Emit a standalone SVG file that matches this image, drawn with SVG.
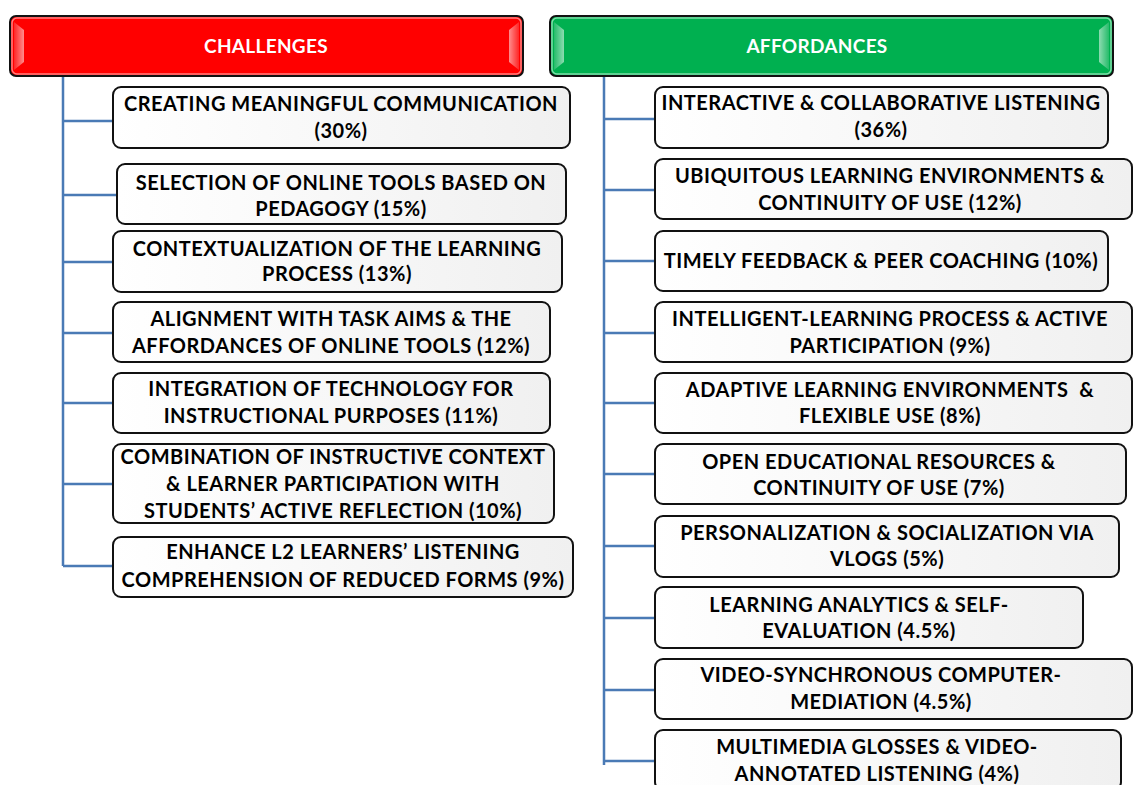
<svg xmlns="http://www.w3.org/2000/svg" width="1133" height="785" viewBox="0 0 1133 785">
<defs>
<linearGradient id="boxg" x1="0" y1="0" x2="1" y2="0">
<stop offset="0" stop-color="#ffffff"/>
<stop offset="1" stop-color="#f0f0f0"/>
</linearGradient>
<linearGradient id="bevL" x1="0" y1="0" x2="1" y2="0">
<stop offset="0" stop-color="#ffffff" stop-opacity="0.15"/>
<stop offset="1" stop-color="#ffffff" stop-opacity="0.55"/>
</linearGradient>
<linearGradient id="bevR" x1="0" y1="0" x2="1" y2="0">
<stop offset="0" stop-color="#ffffff" stop-opacity="0.55"/>
<stop offset="1" stop-color="#ffffff" stop-opacity="0.15"/>
</linearGradient>
</defs>
<style>
.box{fill:url(#boxg);stroke:#111;stroke-width:2}
.t{font-family:Lato,"Open Sans","Liberation Sans",sans-serif;font-weight:700;font-size:20px;letter-spacing:0.5px;fill:#000;text-anchor:middle}
.h{font-family:Lato,"Open Sans","Liberation Sans",sans-serif;font-weight:700;font-size:19px;letter-spacing:0.3px;fill:#fff;text-anchor:middle}
.conn{stroke:#4a7ab5;stroke-width:2.5;fill:none}
</style>
<rect width="1133" height="785" fill="#fff"/>

<g id="connectors">
<path class="conn" d="M63,76 V566 M63,121 H113 M63,195 H117 M63,262 H113 M63,333 H113 M63,403 H113 M63,484 H113 M63,566 H113"/>
<path class="conn" d="M604,76 V765 M604,119 H655 M604,190 H655 M604,261 H655 M604,333 H655 M604,403 H655 M604,474 H655 M604,546 H655 M604,618 H655 M604,690 H655 M604,761 H655"/>
</g>

<g id="challenges">
<rect x="10" y="16" width="513" height="60" rx="6" fill="#ff0000" stroke="#111" stroke-width="2"/>
<rect x="12" y="18" width="509" height="56" rx="5" fill="none" stroke="#ff8080" stroke-width="1.5"/>
<polygon points="14,22 24,30 24,62 14,70" fill="url(#bevL)"/>
<polygon points="519,22 509,30 509,62 519,70" fill="url(#bevR)"/>
<text class="h" x="266" y="53">CHALLENGES</text>
</g>

<g id="affordances">
<rect x="550" y="16" width="563" height="60" rx="6" fill="#00b050" stroke="#111" stroke-width="2"/>
<rect x="552" y="18" width="559" height="56" rx="5" fill="none" stroke="#7fdca8" stroke-width="1.5"/>
<polygon points="554,22 564,30 564,62 554,70" fill="url(#bevL)"/>
<polygon points="1109,22 1099,30 1099,62 1109,70" fill="url(#bevR)"/>
<text class="h" x="817" y="53">AFFORDANCES</text>
</g>

<g id="c1"><rect class="box" x="113" y="87" width="457" height="61" rx="8"/>
<text class="t" x="341" y="111">CREATING MEANINGFUL COMMUNICATION</text><text class="t" x="341" y="138">(30%)</text></g>
<g id="c2"><rect class="box" x="117" y="164" width="449" height="60" rx="8"/>
<text class="t" x="341" y="190">SELECTION OF ONLINE TOOLS BASED ON</text><text class="t" x="341" y="216">PEDAGOGY (15%)</text></g>
<g id="c3"><rect class="box" x="113" y="231" width="449" height="61" rx="8"/>
<text class="t" x="337" y="256">CONTEXTUALIZATION OF THE LEARNING</text><text class="t" x="337" y="281">PROCESS (13%)</text></g>
<g id="c4"><rect class="box" x="113" y="302" width="437" height="60" rx="8"/>
<text class="t" x="331" y="326">ALIGNMENT WITH TASK AIMS &amp; THE</text><text class="t" x="331" y="353">AFFORDANCES OF ONLINE TOOLS (12%)</text></g>
<g id="c5"><rect class="box" x="113" y="373" width="437" height="60" rx="8"/>
<text class="t" x="331" y="396">INTEGRATION OF TECHNOLOGY FOR</text><text class="t" x="331" y="423">INSTRUCTIONAL PURPOSES (11%)</text></g>
<g id="c6"><rect class="box" x="113" y="444" width="441" height="79" rx="8"/>
<text class="t" x="333" y="464">COMBINATION OF INSTRUCTIVE CONTEXT</text><text class="t" x="333" y="491">&amp; LEARNER PARTICIPATION WITH</text><text class="t" x="333" y="518">STUDENTS’ ACTIVE REFLECTION (10%)</text></g>
<g id="c7"><rect class="box" x="113" y="537" width="460" height="60" rx="8"/>
<text class="t" x="343" y="559">ENHANCE L2 LEARNERS’ LISTENING</text><text class="t" x="343" y="587">COMPREHENSION OF REDUCED FORMS (9%)</text></g>

<g id="a1"><rect class="box" x="655" y="87" width="453" height="61" rx="8"/>
<text class="t" x="881" y="110">INTERACTIVE &amp; COLLABORATIVE LISTENING</text><text class="t" x="881" y="137">(36%)</text></g>
<g id="a2"><rect class="box" x="655" y="159" width="477" height="60" rx="8"/>
<text class="t" x="890" y="183">UBIQUITOUS LEARNING ENVIRONMENTS &amp;</text><text class="t" x="890" y="210">CONTINUITY OF USE (12%)</text></g>
<g id="a3"><rect class="box" x="655" y="231" width="453" height="60" rx="8"/>
<text class="t" x="881" y="268">TIMELY FEEDBACK &amp; PEER COACHING (10%)</text></g>
<g id="a4"><rect class="box" x="655" y="302" width="477" height="60" rx="8"/>
<text class="t" x="890" y="326">INTELLIGENT-LEARNING PROCESS &amp; ACTIVE</text><text class="t" x="890" y="353">PARTICIPATION (9%)</text></g>
<g id="a5"><rect class="box" x="655" y="373" width="477" height="60" rx="8"/>
<text class="t" x="890" y="397" xml:space="preserve">ADAPTIVE LEARNING ENVIRONMENTS  &amp;</text><text class="t" x="890" y="423">FLEXIBLE USE (8%)</text></g>
<g id="a6"><rect class="box" x="655" y="444" width="471" height="60" rx="8"/>
<text class="t" x="879" y="469">OPEN EDUCATIONAL RESOURCES &amp;</text><text class="t" x="879" y="495">CONTINUITY OF USE (7%)</text></g>
<g id="a7"><rect class="box" x="655" y="516" width="464" height="61" rx="8"/>
<text class="t" x="887" y="540">PERSONALIZATION &amp; SOCIALIZATION VIA</text><text class="t" x="887" y="566">VLOGS (5%)</text></g>
<g id="a8"><rect class="box" x="655" y="587" width="428" height="61" rx="8"/>
<text class="t" x="859" y="612">LEARNING ANALYTICS &amp; SELF-</text><text class="t" x="859" y="638">EVALUATION (4.5%)</text></g>
<g id="a9"><rect class="box" x="655" y="659" width="477" height="60" rx="8"/>
<text class="t" x="881" y="682">VIDEO-SYNCHRONOUS COMPUTER-</text><text class="t" x="881" y="709">MEDIATION (4.5%)</text></g>
<g id="a10"><rect class="box" x="655" y="730" width="466" height="60" rx="8"/>
<text class="t" x="877" y="754">MULTIMEDIA GLOSSES &amp; VIDEO-</text><text class="t" x="877" y="781">ANNOTATED LISTENING (4%)</text></g>
</svg>
